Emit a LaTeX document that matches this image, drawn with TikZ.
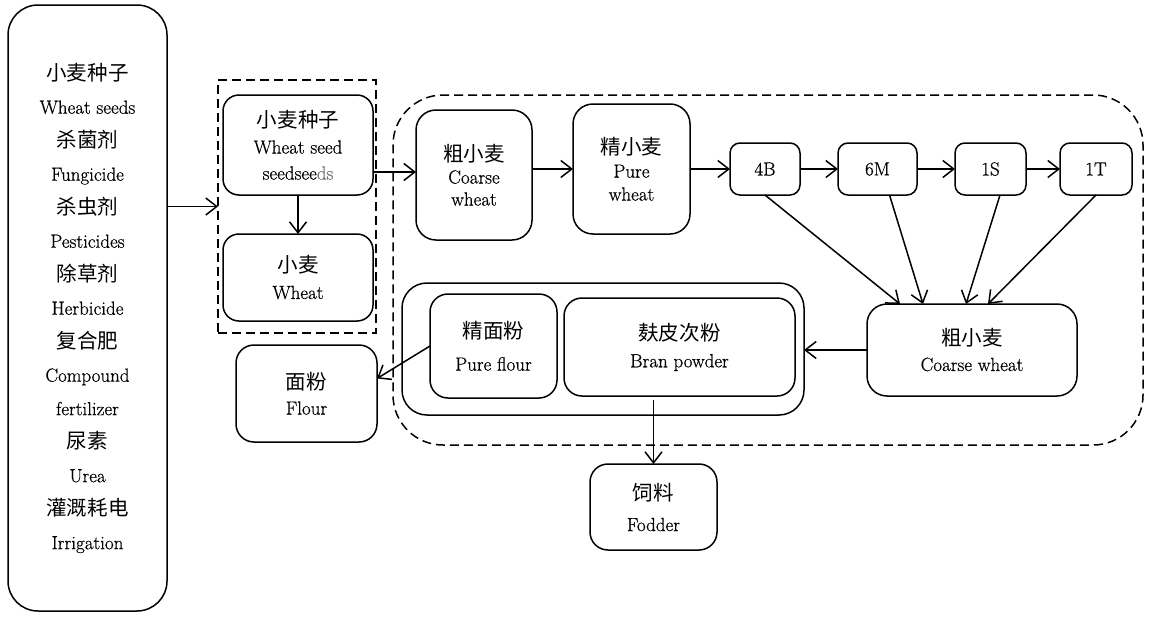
\documentclass[tikz,border=0pt]{standalone}
\usepackage{fontspec}
\setmainfont{Latin Modern Roman}[FakeBold=0.6]
\newfontfamily\cjk{Noto Sans CJK SC}[Scale=1.08]
\usetikzlibrary{arrows.meta}
\begin{document}
\begin{tikzpicture}[x=1pt,y=-1pt,
  every node/.style={inner sep=0pt,outer sep=0pt},
  box/.style={draw,line width=1.5pt,rounded corners=#1,align=center,font=\fontsize{19}{25}\selectfont},
  box/.default=16,
  dbox/.style={draw,line width=1.5pt,dash pattern=on 9pt off 5pt},
  arr/.style={line width=1.5pt,-{Straight Barb[length=11pt,width=17pt,line width=1.5pt]}}]
\useasboundingbox (0,0) rectangle (1150,616);
% left inputs
\node[box=30,minimum width=159,minimum height=606,font=\fontsize{19}{33.5}\selectfont] (lb) at (87.5,308)
 {{\cjk 小麦种子}\\Wheat seeds\\{\cjk 杀菌剂}\\Fungicide\\{\cjk 杀虫剂}\\Pesticides\\{\cjk 除草剂}\\Herbicide\\{\cjk 复合肥}\\Compound\\fertilizer\\{\cjk 尿素}\\Urea\\{\cjk 灌溉耗电}\\Irrigation};
% dashed group
\node[dbox,minimum width=158,minimum height=253] (grp) at (297,206.5) {};
\node[box=16,minimum width=150,minimum height=100,font=\fontsize{19}{26}\selectfont] (seed) at (298,145)
 {{\cjk 小麦种子}\\Wheat seed\\seedsee{\color{black!55}ds}};
\node[box=16,minimum width=150,minimum height=87,font=\fontsize{19}{26}\selectfont] (wheat) at (298,277.5)
 {{\cjk 小麦}\\Wheat};
% big dashed region
\node[dbox,rounded corners=50,minimum width=750,minimum height=350] (reg) at (768,270) {};
\node[box=20,minimum width=116,minimum height=130,font=\fontsize{19}{22}\selectfont] (c1) at (474,175)
 {{\cjk 粗小麦}\\Coarse\\wheat};
\node[box=20,minimum width=117,minimum height=130,font=\fontsize{19}{23}\selectfont] (c2) at (631.5,169)
 {{\cjk 精小麦}\\Pure\\wheat};
\node[box=10,minimum width=70,minimum height=52] (b4) at (765,169) {4B};
\node[box=10,minimum width=79,minimum height=52] (m6) at (877.5,169) {6M};
\node[box=10,minimum width=71,minimum height=52] (s1) at (990.5,169) {1S};
\node[box=10,minimum width=72,minimum height=52] (t1) at (1096,169) {1T};
\node[box=20,minimum width=210,minimum height=92] (cw) at (972,350)
 {{\cjk 粗小麦}\\Coarse wheat};
% products
\node[box=25,minimum width=402,minimum height=132] (ob) at (603,349) {};
\node[box=18,minimum width=127,minimum height=104,font=\fontsize{19}{32}\selectfont] (pf) at (493.5,346)
 {{\cjk 精面粉}\\Pure flour};
\node[box=18,minimum width=231,minimum height=98,font=\fontsize{19}{27}\selectfont] (bp) at (679.5,347)
 {{\cjk 麸皮次粉}\\Bran powder};
\node[box=18,minimum width=141,minimum height=97] (fl) at (306.5,393.5)
 {{\cjk 面粉}\\Flour};
\node[box=18,minimum width=127,minimum height=86,font=\fontsize{19}{31}\selectfont] (fd) at (653.5,507)
 {{\cjk 饲料}\\Fodder};
% connectors
\draw[arr] (lb.east |- grp.west) -- (grp.west);
\draw[arr] (seed) -- (wheat);
\draw[arr] ([yshift=3]seed.east |- c1.west) -- ([yshift=3]c1.west);
\draw[arr] (c1.east |- c2.east) -- (c2.east -| c2.west);
\draw[arr] (c2.east |- b4.west) -- (b4.west);
\draw[arr] (b4) -- (m6);
\draw[arr] (m6) -- (s1);
\draw[arr] (s1) -- (t1);
\draw[arr] (b4.south) -- ([xshift=-72]cw.north);
\draw[arr] ([xshift=12]m6.south) -- ([xshift=-49]cw.north);
\draw[arr] ([xshift=9.5]s1.south) -- ([xshift=-6]cw.north);
\draw[arr] (t1.south) -- ([xshift=16]cw.north);
\draw[arr] (cw.west) -- (cw.west -| ob.east);
\draw[arr] (pf.west) -- ([yshift=15]fl.east);
\draw[arr,shorten <=4pt] (fd.north |- bp.south) -- (fd.north);
\end{tikzpicture}
\end{document}
